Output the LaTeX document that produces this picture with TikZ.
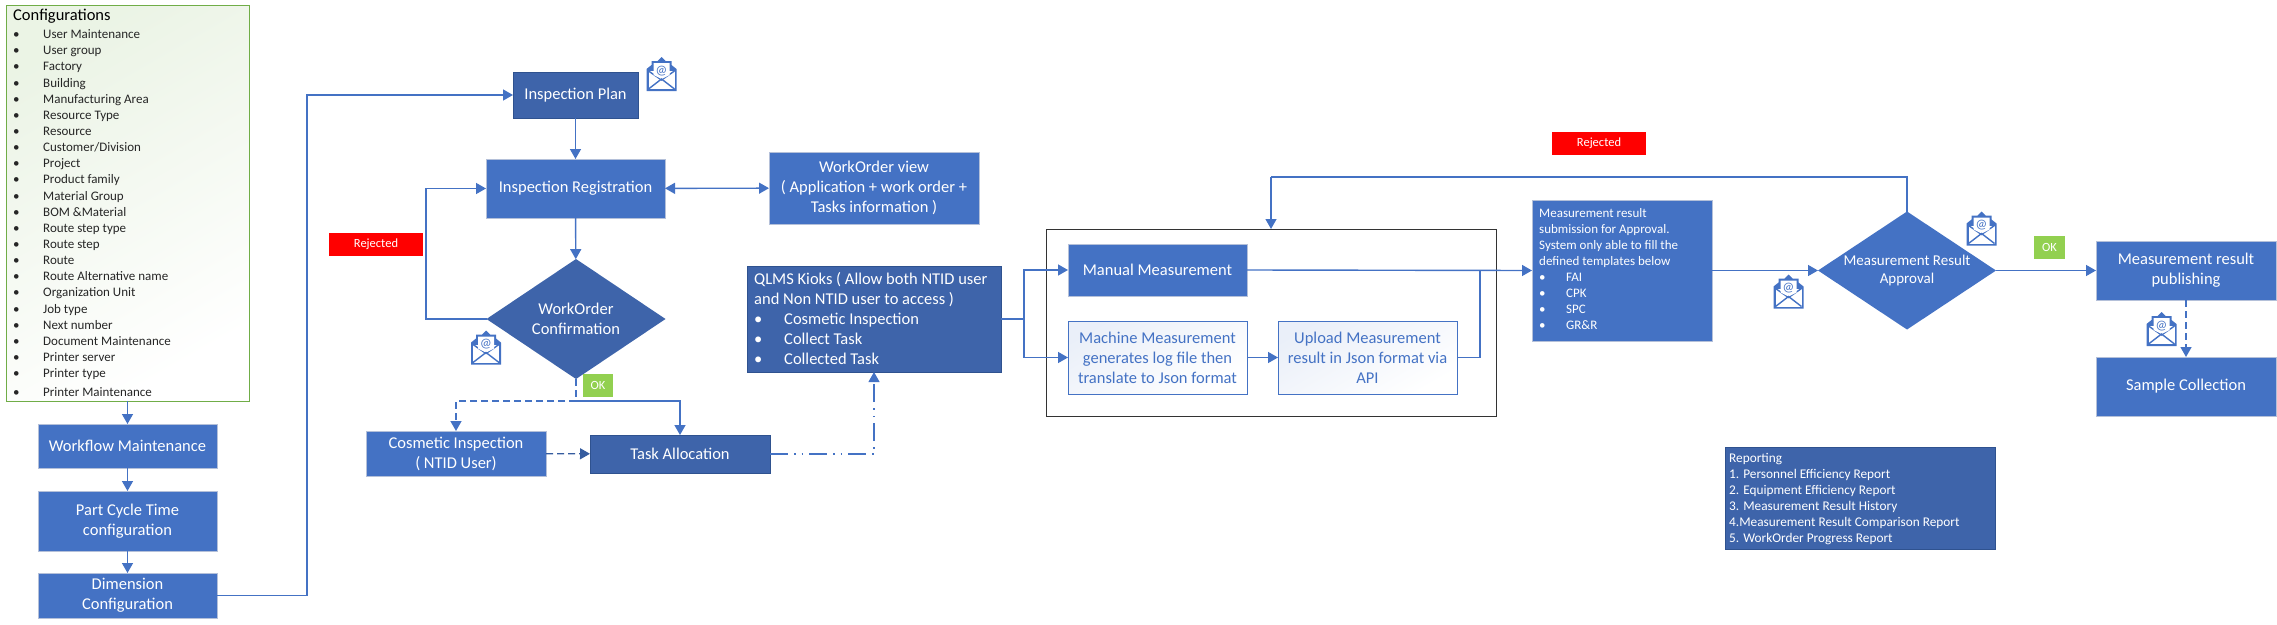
\documentclass[tikz,border=0pt]{standalone}
\usepackage{fontspec}
\setmainfont{Carlito}
\definecolor{MainBlue}{RGB}{68, 114, 196}
\definecolor{DarkBlue}{RGB}{62, 100, 170}
\definecolor{EdgeBlue}{RGB}{47, 82, 143}
\definecolor{SoftEdge}{RGB}{180, 192, 217}
\definecolor{LeafGreen}{RGB}{112, 173, 71}
\definecolor{OkGreen}{RGB}{146, 208, 80}
\usetikzlibrary{arrows.meta, positioning, shapes.geometric, calc}
\newcommand{\bul}[1]{\makebox[#1][l]{\textbullet}}

\tikzset{
    mailicon/.pic={
        \fill[MainBlue] (-15,-5) -- (-10,-9) -- (-10,-13) -- (-4,-13) -- (0,-17) -- (4,-13) -- (10,-13) -- (10,-9) -- (15,-5) -- (15,17) -- (-15,17) -- cycle;
        \fill[white] (-13,-3) rectangle (13,15);
        \draw[MainBlue, line width=1.4pt] (-13,-3) -- (0,6) -- (13,-3);
        \fill[white] (-8,-11) -- (8,-11) -- (8,1) -- (0,5) -- (-8,1) -- cycle;
        \draw[MainBlue, line width=1.4pt] (-13,15) -- (0,5) -- (13,15);
        \node[text=MainBlue, font=\fontsize{13}{13}\selectfont, inner sep=0pt] (-at) at (0,-3) {@};
    }
}

\begin{document}
\begin{tikzpicture}[
        x=1pt, y=-1pt,
        box/.style={rectangle, draw=SoftEdge, fill=MainBlue, text=white, line width=1pt, align=center, inner sep=2pt, outer sep=0pt, font=\fontsize{16.5}{20}\selectfont},
        darkbox/.style={box, draw=EdgeBlue, fill=DarkBlue},
        lightbox/.style={box, draw=MainBlue, text=MainBlue, shading=axis, left color=MainBlue!11, right color=white, shading angle=30},
        decision/.style={diamond, aspect=1.5, fill=DarkBlue, text=white, align=center, inner sep=-1pt, outer sep=0pt, font=\fontsize{16.5}{20}\selectfont},
        tagbox/.style={rectangle, text=white, align=center, inner sep=0pt, outer sep=0pt, font=\fontsize{12.5}{14}\selectfont},
        flow/.style={-{Triangle[length=10pt, width=11pt]}, line width=1.4pt, MainBlue},
        conn/.style={line width=1.4pt, MainBlue},
        dashline/.style={dash pattern=on 7pt off 4pt}
    ]
        \useasboundingbox (0,0) rectangle (2277,624);

        % Configurations column
        \node[rectangle, draw=LeafGreen, line width=1pt, shading=axis, top color=LeafGreen!14, middle color=white, bottom color=white, shading angle=30, minimum width=243pt, minimum height=396pt, inner sep=0pt, outer sep=0pt] (config) at (127.5,203) {};
        \node[anchor=north west, inner sep=0pt, align=left, font=\fontsize{16.5}{19}\selectfont] (configtitle) at (13,9) {Configurations};
        \node[anchor=north west, inner sep=0pt, align=left, text=black!85, font=\fontsize{13}{16.14}\selectfont] (configlist) at (13,29.5) {%
            \bul{30pt}User Maintenance\\
            \bul{30pt}User group\\
            \bul{30pt}Factory\\
            \bul{30pt}Building\\
            \bul{30pt}Manufacturing Area\\
            \bul{30pt}Resource Type\\
            \bul{30pt}Resource\\
            \bul{30pt}Customer/Division\\
            \bul{30pt}Project\\
            \bul{30pt}Product family\\
            \bul{30pt}Material Group\\
            \bul{30pt}BOM \&Material\\
            \bul{30pt}Route step type\\
            \bul{30pt}Route step\\
            \bul{30pt}Route\\
            \bul{30pt}Route Alternative name\\
            \bul{30pt}Organization Unit\\
            \bul{30pt}Job type\\
            \bul{30pt}Next number\\
            \bul{30pt}Document Maintenance\\
            \bul{30pt}Printer server\\
            \bul{30pt}Printer type\\[3pt]
            \bul{30pt}Printer Maintenance};
        \node[box, minimum width=179pt, minimum height=44pt] (workflow) at (127.5,446) {Workflow Maintenance};
        \node[box, minimum width=179pt, minimum height=60pt] (cycle) at (127.5,521) {Part Cycle Time\\configuration};
        \node[box, minimum width=179pt, minimum height=45pt] (dimension) at (127.5,595.5) {Dimension\\Configuration};
        \draw[flow] (config) -- (workflow);
        \draw[flow] (workflow) -- (cycle);
        \draw[flow] (cycle) -- (dimension);

        % Inspection part
        \node[darkbox, minimum width=125pt, minimum height=46pt] (plan) at (575.5,95) {Inspection Plan};
        \node[box, minimum width=179pt, minimum height=59pt] (registration) at (575.5,188.5) {Inspection Registration};
        \node[box, minimum width=210pt, minimum height=72pt] (orderview) at (874,188) {WorkOrder view\\( Application + work order +\\Tasks information )};
        \node[decision, minimum width=179pt, minimum height=120pt] (confirm) at (576,319) {WorkOrder\\Confirmation};
        \node[tagbox, fill=red, minimum width=94pt, minimum height=23pt] (rejecta) at (376,244.5) {Rejected};
        \node[tagbox, fill=OkGreen, minimum width=30pt, minimum height=23pt] (oka) at (598,385.5) {OK};
        \node[box, minimum width=180pt, minimum height=45pt] (cosmetic) at (456,453.5) {Cosmetic Inspection\\( NTID User)};
        \node[darkbox, minimum width=180pt, minimum height=38pt] (allocation) at (680,454) {Task Allocation};
        \node[darkbox, anchor=north west, minimum width=254pt, minimum height=106pt, inner sep=0pt] (kiosk) at (747,266) {};
        \node[anchor=north west, inner sep=0pt, text=white, align=left, font=\fontsize{16.5}{20}\selectfont] (kiosktext) at (754,272) {%
            QLMS Kioks ( Allow both NTID user\\
            and Non NTID user to access )\\
            \bul{30pt}Cosmetic Inspection\\
            \bul{30pt}Collect Task\\
            \bul{30pt}Collected Task};
        \coordinate (loopmain) at (307,300);
        \coordinate (loopreject) at (426,250);
        \coordinate (branchok) at (576,401);
        \coordinate (branchkiosk) at (1024,319);
        \draw[conn] (dimension.east) -| (loopmain);
        \draw[flow] (loopmain) |- (plan.west);
        \draw[flow] (plan) -- (registration);
        \draw[{Triangle[length=10pt, width=11pt]}-{Triangle[length=10pt, width=11pt]}, line width=1.4pt, MainBlue] (registration) -- (orderview);
        \draw[flow] (registration) -- (confirm);
        \draw[conn] (confirm.west) -| (loopreject);
        \draw[flow] (loopreject) |- (registration.west);
        \draw[conn, dashline] (confirm.south) -- (branchok);
        \draw[flow, dashline] (branchok) -| (cosmetic.north);
        \draw[flow] (branchok) -| (allocation.north);
        \draw[flow, dashline, EdgeBlue!70!MainBlue] (cosmetic) -- (allocation);
        \draw[flow, line width=1.2pt, dash pattern=on 18pt off 6pt on 1.5pt off 6pt on 1.5pt off 6pt] (allocation.east) -| (kiosk.south);
        \pic (maila) at (661.5,74) {mailicon};
        \pic (mailb) at (486,347.5) {mailicon};

        % Measurement part
        \node[rectangle, draw=black!80, line width=1pt, minimum width=450pt, minimum height=187pt, inner sep=0pt, outer sep=0pt] (measure) at (1271,322.5) {};
        \node[box, minimum width=179pt, minimum height=52pt] (manual) at (1157.5,270) {Manual Measurement};
        \node[lightbox, minimum width=179pt, minimum height=73pt] (machine) at (1157.5,357.5) {Machine Measurement\\generates log file then\\translate to Json format};
        \node[lightbox, minimum width=179pt, minimum height=73pt] (upload) at (1367.5,357.5) {Upload Measurement\\result in Json format via\\API};
        \node[box, anchor=north west, minimum width=180pt, minimum height=141pt, inner sep=0pt] (submission) at (1532,200) {};
        \node[anchor=north west, inner sep=0pt, text=white, align=left, font=\fontsize{13}{16.1}\selectfont] (submissiontext) at (1539,208) {%
            Measurement result\\
            submission for Approval.\\
            System only able to fill the\\
            defined templates below\\
            \bul{27pt}FAI\\
            \bul{27pt}CPK\\
            \bul{27pt}SPC\\
            \bul{27pt}GR\&R};
        \node[decision, fill=MainBlue, minimum width=178pt, minimum height=118pt, font=\fontsize{15}{18}\selectfont] (approval) at (1907,270.5) {Measurement Result\\Approval};
        \node[tagbox, fill=red, minimum width=94pt, minimum height=23pt] (rejectb) at (1599,143.5) {Rejected};
        \node[tagbox, fill=OkGreen, minimum width=31pt, minimum height=23pt] (okb) at (2049.5,247.5) {OK};
        \node[box, minimum width=180pt, minimum height=59pt] (publish) at (2186,270.5) {Measurement result\\publishing};
        \node[box, minimum width=180pt, minimum height=59pt] (sample) at (2186,386.5) {Sample Collection};
        \coordinate (branchupload) at (1480,270.5);
        \coordinate (backtop) at (1271,177);
        \draw[conn] (kiosk.east) -- (branchkiosk);
        \draw[flow] (branchkiosk) |- (manual.west);
        \draw[flow] (branchkiosk) |- (machine.west);
        \draw[flow] (machine) -- (upload);
        \draw[flow] (manual.east) -- (submission.west);
        \draw[conn] (upload.east) -| (branchupload);
        \draw[flow] (submission.east) -- (approval.west);
        \draw[conn] (approval.north) |- (backtop);
        \draw[flow] (backtop) -- (measure.north);
        \draw[flow] (approval.east) -- (publish.west);
        \draw[flow, dashline] (publish) -- (sample);
        \pic (mailc) at (1788.5,291.5) {mailicon};
        \pic (maild) at (1981.5,228.5) {mailicon};
        \pic (maile) at (2161.5,329) {mailicon};

        % Reporting
        \node[darkbox, minimum width=270pt, minimum height=102pt, inner sep=0pt] (reporting) at (1860,498) {};
        \node[anchor=north west, inner sep=0pt, text=white, align=left, font=\fontsize{13.3}{16}\selectfont] (reportingtext) at (1729,453) {%
            Reporting\\
            1. Personnel Efficiency Report\\
            2. Equipment Efficiency Report\\
            3. Measurement Result History\\
            4.Measurement Result Comparison Report\\
            5. WorkOrder Progress Report};
\end{tikzpicture}
\end{document}
